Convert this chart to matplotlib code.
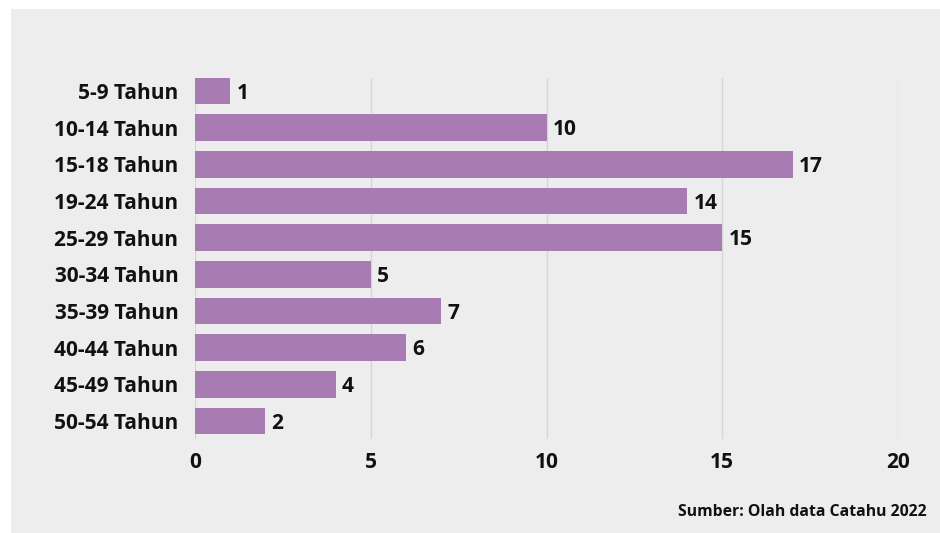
import matplotlib.pyplot as plt
from matplotlib.patches import Rectangle

# data
kelompok = ['5-9 Tahun', '10-14 Tahun', '15-18 Tahun', '19-24 Tahun', '25-29 Tahun',
            '30-34 Tahun', '35-39 Tahun', '40-44 Tahun', '45-49 Tahun', '50-54 Tahun']
jumlah = [1, 10, 17, 14, 15, 5, 7, 6, 4, 2]
x_ticks = [0, 5, 10, 15, 20]

plt.rcParams['font.family'] = ['Open Sans', 'DejaVu Sans']
plt.rcParams['font.weight'] = 'bold'

fig = plt.figure(figsize=(9.4, 5.33), dpi=100, facecolor='white')
# gray panel behind everything
fig.patches.append(Rectangle((11 / 940, 0), 1, 1 - 9 / 533, transform=fig.transFigure,
                             facecolor='#ededed', edgecolor='none', zorder=-10))

# top of axes = top of first bar, so grid lines start there
ax = fig.add_axes([195 / 940, 1 - 439.3 / 533, (898 - 195) / 940, (439.3 - 77.8) / 533])
ax.set_facecolor('none')
ax.set_zorder(5)

pos = list(range(len(kelompok)))
ax.barh(pos, jumlah, height=0.72, color='#a87bb3', zorder=3)
for p, v in zip(pos, jumlah):
    ax.annotate(str(v), (v, p), xytext=(4.5, -1.5), textcoords='offset points',
                va='center', ha='left', fontsize=15, fontweight='bold', color='#111111')

ax.set_yticks(pos)
ax.set_yticklabels(kelompok, fontsize=15, fontweight='bold', color='#111111')
ax.set_ylim(len(kelompok) - 0.5, -0.36)
ax.set_xlim(0, 20)
ax.set_xticks(x_ticks)
ax.set_xticklabels([str(t) for t in x_ticks], fontsize=15, fontweight='bold', color='#111111')
ax.tick_params(length=0, pad=12)
ax.tick_params(axis='x', pad=9)
ax.grid(axis='x', color='#d6d6d6', linewidth=1, zorder=0)
for s in ax.spines.values():
    s.set_visible(False)

fig.text(927 / 940, 1 - 512 / 533, 'Sumber: Olah data Catahu 2022', ha='right', va='center',
         fontsize=11.3, fontweight='bold', color='#111111')

fig.savefig('out.png', dpi=100, facecolor=fig.get_facecolor())
